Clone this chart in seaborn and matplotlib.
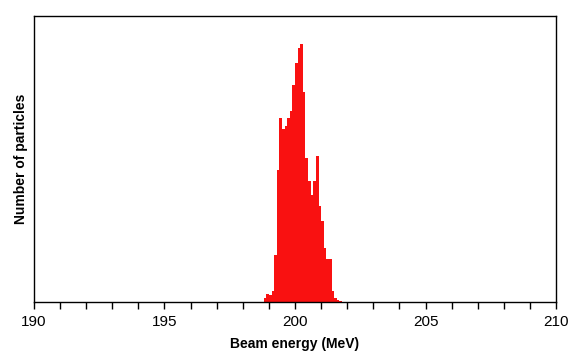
import numpy as np
import matplotlib
matplotlib.use("Agg")
import matplotlib.pyplot as plt
from matplotlib.ticker import MultipleLocator
import seaborn as sns

# histogram bins (MeV), 0.1 MeV wide, starting at 198.8
bin_left = [198.8, 198.9, 199.0, 199.1, 199.2, 199.3, 199.4, 199.5, 199.6, 199.7,
            199.8, 199.9, 200.0, 200.1, 200.2, 200.3, 200.4, 200.5, 200.6, 200.7,
            200.8, 200.9, 201.0, 201.1, 201.2, 201.3, 201.4, 201.5, 201.6, 201.7]
counts = [12, 25, 22, 32, 142, 398, 554, 520, 528, 554,
          575, 653, 718, 763, 776, 633, 433, 363, 323, 363,
          438, 290, 243, 163, 128, 128, 33, 13, 6, 3]

bin_width = 0.1
edges = list(bin_left) + [bin_left[-1] + bin_width]
centers = [b + bin_width / 2 for b in bin_left]

sns.set_theme(style="ticks")
plt.rcParams['font.family'] = ['Liberation Sans', 'DejaVu Sans']
plt.rcParams['text.color'] = 'black'
plt.rcParams['axes.labelcolor'] = 'black'
plt.rcParams['xtick.color'] = 'black'

fig = plt.figure(figsize=(5.78, 3.52), dpi=100)
ax = fig.add_axes([0.0588, 0.142, 0.9032, 0.8125])

sns.histplot(x=centers, weights=counts, bins=edges, color="#f91111", alpha=1,
             linewidth=0, ax=ax)

ax.set_xlim(190, 210)
ax.set_ylim(0, 860)
ax.xaxis.set_major_locator(MultipleLocator(5))
ax.xaxis.set_minor_locator(MultipleLocator(1))
ax.tick_params(axis="x", which="both", direction="out", length=5, width=1,
               color="black", labelcolor="black", labelsize=11, pad=4)
ax.tick_params(axis="y", left=False, labelleft=False)
for sp in ax.spines.values():
    sp.set_visible(True)
    sp.set_color("black")
    sp.set_linewidth(1)

ax.set_xlabel("Beam energy (MeV)", fontsize=10, fontweight="bold", labelpad=6)
ax.set_ylabel("Number of particles", fontsize=10, fontweight="bold", labelpad=4)

plt.savefig("out.png", dpi=100)
